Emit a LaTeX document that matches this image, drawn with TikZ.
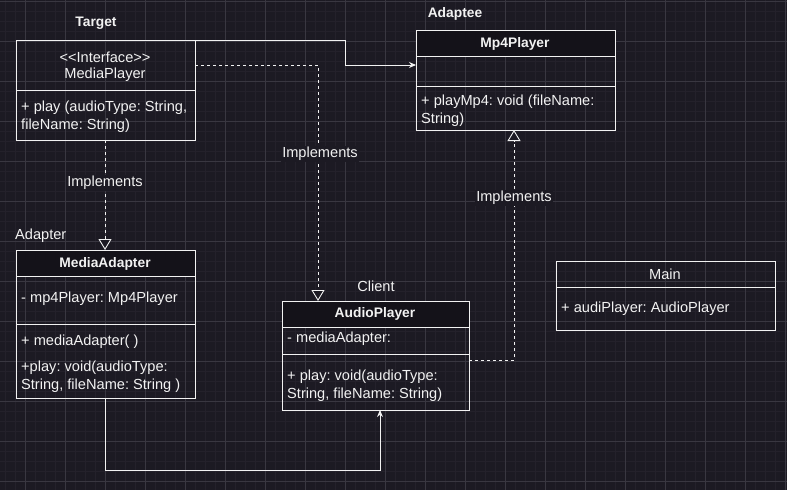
\documentclass[tikz,border=0pt]{standalone}
\usepackage{fontspec}
\setmainfont{Liberation Sans}
\usetikzlibrary{arrows.meta,calc}
\definecolor{bg}{HTML}{1C1A23}
\definecolor{gridmaj}{HTML}{393741}
\definecolor{gridmin}{HTML}{24212B}
\definecolor{hdr}{HTML}{141219}
\definecolor{fg}{HTML}{F2F2F2}
\frenchspacing
\begin{document}
\begin{tikzpicture}[x=1pt,y=-1pt,
  box/.style={draw=fg, line width=0.9pt, inner sep=0pt, anchor=north west},
  sep/.style={draw=fg, line width=0.9pt},
  txt/.style={text=fg, font=\fontsize{14.6}{16}\selectfont, inner sep=0pt},
  btxt/.style={text=fg, font=\bfseries\fontsize{13.8}{16}\selectfont, inner sep=0pt},
  lbl/.style={text=fg, font=\fontsize{14.6}{16}\selectfont, fill=bg, inner sep=1.5pt},
  link/.style={draw=fg, line width=0.9pt},
  solidarrow/.style={link, -{Stealth[length=7pt,width=6pt]}},
  realize/.style={link, dash pattern=on 3pt off 3pt, -{Triangle[open,length=11pt,width=13pt,fill=bg]}}
]
\useasboundingbox (0,0) rectangle (787,490);
\fill[bg] (0,0) rectangle (787,490);
% grid
\foreach \x in {5,15,...,785} \draw[gridmin, line width=0.6pt] (\x,0) -- (\x,490);
\foreach \y in {1,11,...,481} \draw[gridmin, line width=0.6pt] (0,\y) -- (787,\y);
\foreach \x in {25,65,...,785} \draw[gridmaj, line width=0.8pt] (\x,0) -- (\x,490);
\foreach \y in {1,41,...,481} \draw[gridmaj, line width=0.8pt] (0,\y) -- (787,\y);

% header fills
\fill[hdr] (416,30) rectangle (615,56.5);
\fill[hdr] (16,250) rectangle (195,276);
\fill[hdr] (282,301) rectangle (469,327);

% boxes
\node[box, minimum width=179pt, minimum height=100pt] (mp) at (16,40) {};
\node[box, minimum width=199pt, minimum height=100pt] (mp4) at (416,30) {};
\node[box, minimum width=179pt, minimum height=148pt] (ma) at (16,250) {};
\node[box, minimum width=187pt, minimum height=109pt] (ap) at (282,301) {};
\node[box, minimum width=219pt, minimum height=69pt] (mn) at (556,261) {};

% dividers
\draw[sep] (16,90) -- (195,90);
\draw[sep] (416,56.5) -- (615,56.5);
\draw[sep] (416,86) -- (615,86);
\draw[sep] (16,276) -- (195,276);
\draw[sep] (16,324) -- (195,324);
\draw[sep] (282,327) -- (469,327);
\draw[sep] (282,354) -- (469,354);
\draw[sep] (556,287) -- (775,287);

% outer labels
\node[btxt] (tTarget) at (96,23) {Target};
\node[btxt] (tAdaptee) at (455,14) {Adaptee};
\node[txt, anchor=west] (tAdapter) at (15,236) {Adapter};
\node[txt] (tClient) at (376,286) {Client};

% MediaPlayer
\node[txt] (mpA) at (105,57) {{<}{<}Interface{>}{>}};
\node[txt] (mpB) at (105,75) {MediaPlayer};
\node[txt, anchor=west] (mpC) at (21,108) {+ play (audioType: String,};
\node[txt, anchor=west] (mpD) at (21,125.5) {fileName: String)};

% Mp4Player
\node[btxt] (mp4A) at (515,44) {Mp4Player};
\node[txt, anchor=west] (mp4B) at (421,102) {+ playMp4: void (fileName:};
\node[txt, anchor=west] (mp4C) at (421,120) {String)};

% MediaAdapter
\node[btxt] (maA) at (105,264) {MediaAdapter};
\node[txt, anchor=west] (maB) at (21,299) {- mp4Player: Mp4Player};
\node[txt, anchor=west] (maC) at (21,342) {+ mediaAdapter( )};
\node[txt, anchor=west] (maD) at (21,368) {+play: void(audioType:};
\node[txt, anchor=west] (maE) at (21,386) {String, fileName: String )};

% AudioPlayer
\node[btxt] (apA) at (375,314) {AudioPlayer};
\node[txt, anchor=west] (apB) at (287,338.5) {- mediaAdapter:};
\node[txt, anchor=west] (apC) at (287,377) {+ play: void(audioType:};
\node[txt, anchor=west] (apD) at (287,394.5) {String, fileName: String)};

% Main
\node[txt] (mnA) at (665,274) {Main};
\node[txt, anchor=west] (mnB) at (561,308.5) {+ audiPlayer: AudioPlayer};

% connector coordinates
\coordinate (c1a) at (345,40);
\coordinate (c1b) at (345,65);
\coordinate (mp4in) at (416,65);
\coordinate (mpout) at (195,65);
\coordinate (c2a) at (318,65);
\coordinate (apin) at (318,301);
\coordinate (mpbot) at (105,140);
\coordinate (matop) at (105,250);
\coordinate (mabot) at (105,398);
\coordinate (c4a) at (105,470);
\coordinate (c4b) at (380,470);
\coordinate (apbot) at (380,410);
\coordinate (apout) at (469,360);
\coordinate (c5a) at (514,360);
\coordinate (mp4bot) at (514,130);

% connectors
\draw[solidarrow] (mp.north east) -- (c1a) -- (c1b) -- (mp4in);
\draw[realize] (mpout) -- (c2a) -- (apin);
\draw[realize] (mpbot) -- (matop);
\draw[solidarrow] (mabot) -- (c4a) -- (c4b) -- (apbot);
\draw[realize] (apout) -- (c5a) -- (mp4bot);

% connector labels
\node[lbl] (i1) at (105,183) {Implements};
\node[lbl] (i2) at (320,154) {Implements};
\node[lbl] (i3) at (514,198) {Implements};
\end{tikzpicture}
\end{document}
